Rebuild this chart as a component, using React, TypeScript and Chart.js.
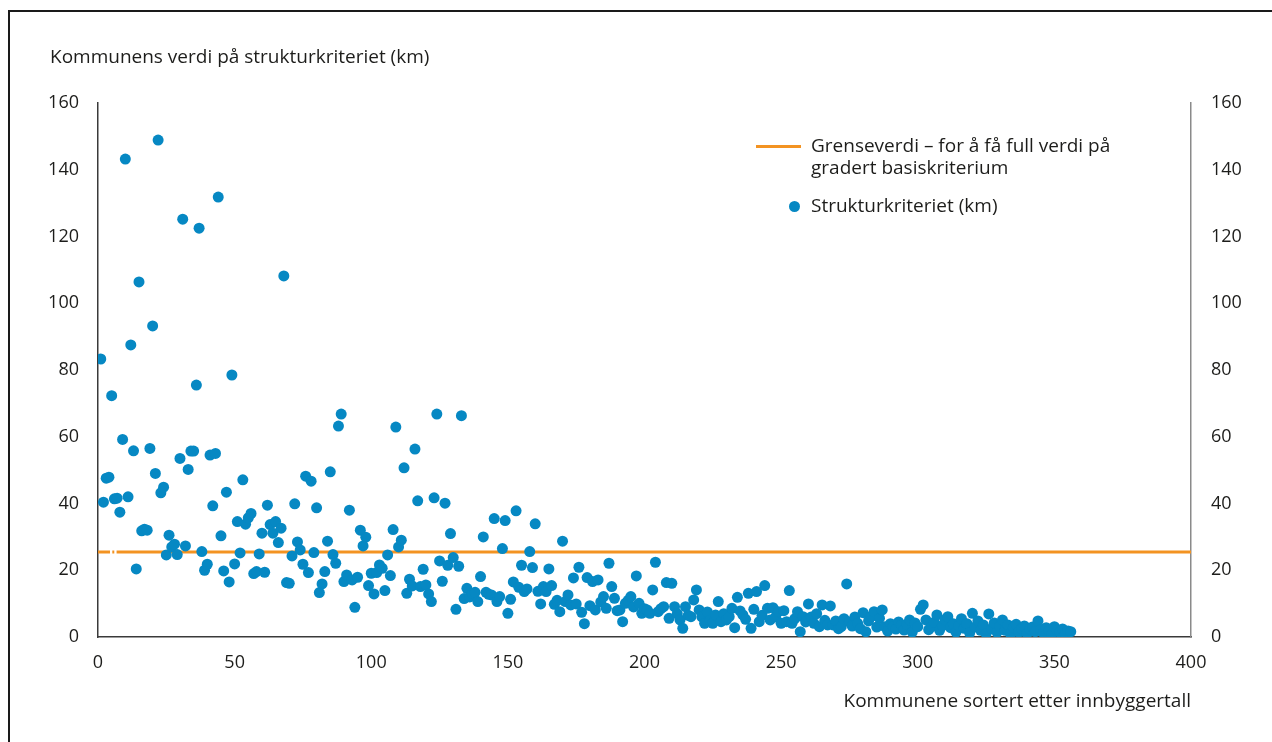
import { useEffect, useRef } from "react";
import { Chart, registerables } from "chart.js";

Chart.register(...registerables);

// Strukturkriteriet (km) per kommune, sortert etter innbyggertall (rang 1..356)
const strukturKm: number[] = [
  83.3, 40.4, 47.6, 47.9, 72.3, 41.4, 41.6, 37.4, 59.2, 143.2,
  42.0, 87.5, 55.8, 20.4, 106.4, 31.8, 32.3, 32.0, 56.5, 93.2,
  49.0, 148.9, 43.2, 44.9, 24.6, 30.5, 27.0, 27.8, 24.7, 53.5,
  125.2, 27.3, 50.2, 55.7, 55.7, 75.5, 122.5, 25.6, 20.0, 21.8,
  54.5, 39.3, 55.0, 131.8, 30.3, 19.8, 43.4, 16.5, 78.5, 21.9,
  34.6, 25.2, 47.1, 33.8, 35.7, 37.0, 19.0, 19.6, 24.9, 31.1,
  19.4, 39.5, 33.7, 31.1, 34.6, 28.3, 32.6, 108.2, 16.3, 16.1,
  24.3, 39.9, 28.5, 26.1, 21.8, 48.2, 19.3, 46.7, 25.3, 38.7,
  13.3, 15.9, 19.6, 28.7, 49.5, 24.7, 22.1, 63.2, 66.8, 16.6,
  18.6, 38.0, 17.1, 8.9, 17.9, 32.0, 27.3, 29.9, 15.4, 19.1,
  12.9, 19.3, 21.6, 20.6, 13.9, 24.6, 18.4, 32.2, 62.9, 27.0,
  29.0, 50.7, 13.1, 17.3, 15.3, 56.3, 40.8, 15.1, 20.3, 15.6,
  12.9, 10.6, 41.7, 66.8, 22.8, 16.7, 40.1, 21.5, 31.0, 23.8,
  8.3, 21.2, 66.3, 11.5, 14.6, 12.0, 13.0, 13.4, 10.6, 18.1,
  30.0, 13.4, 12.8, 12.6, 35.5, 10.6, 12.1, 26.5, 34.9, 7.1,
  11.3, 16.5, 37.8, 14.9, 21.5, 13.6, 14.4, 25.6, 20.8, 33.9,
  13.7, 9.9, 15.1, 13.6, 20.4, 15.4, 9.8, 11.0, 7.6, 28.7,
  10.6, 12.6, 9.6, 17.7, 9.9, 20.9, 7.4, 4.0, 17.8, 9.4,
  16.6, 8.1, 17.1, 10.5, 12.1, 8.6, 22.1, 15.1, 11.6, 7.9,
  8.1, 4.6, 10.1, 11.0, 12.1, 9.0, 18.3, 10.1, 7.1, 8.5,
  8.1, 7.1, 14.1, 22.4, 7.6, 8.5, 9.1, 16.3, 5.6, 16.1,
  9.1, 7.0, 5.1, 2.6, 9.1, 6.5, 6.1, 11.1, 14.1, 8.1,
  6.0, 4.1, 7.5, 5.0, 4.1, 6.6, 10.6, 4.6, 7.0, 5.1,
  6.1, 8.6, 2.8, 11.9, 7.8, 6.6, 5.3, 13.1, 2.6, 8.3,
  13.6, 4.6, 6.5, 15.4, 8.6, 5.1, 8.8, 6.0, 7.6, 4.1,
  7.9, 4.6, 13.9, 4.1, 5.5, 7.6, 1.6, 6.1, 4.5, 9.9,
  6.0, 4.1, 7.0, 3.1, 9.6, 5.0, 3.6, 9.3, 3.6, 4.8,
  2.5, 3.1, 5.5, 15.9, 4.5, 3.3, 6.0, 4.1, 2.5, 7.3,
  1.6, 4.8, 6.2, 7.6, 3.0, 5.6, 8.1, 3.1, 1.8, 4.0,
  3.1, 2.4, 4.5, 3.6, 2.1, 3.8, 5.1, 1.5, 4.2, 3.1,
  8.3, 9.6, 5.1, 2.2, 3.1, 4.4, 6.6, 2.0, 3.5, 5.2,
  6.1, 2.8, 4.0, 1.5, 3.4, 5.5, 2.6, 4.0, 1.2, 7.1,
  3.0, 4.8, 2.0, 3.6, 1.0, 6.9, 2.5, 4.2, 1.4, 3.2,
  5.1, 2.0, 3.6, 0.9, 2.8, 3.8, 1.5, 2.6, 3.3, 1.0,
  2.4, 3.0, 1.6, 4.8, 2.2, 1.2, 2.8, 1.8, 0.8, 3.1,
  2.0, 1.4, 2.4, 1.0, 1.8, 1.6,
];

// Kommunenes rang etter innbyggertall
const rang: number[] = strukturKm.map((_, i) => i + 1);

// Grenseverdi for full verdi på gradert basiskriterium (km)
const grenseverdi = 25.5;
// The threshold line starts dashed and becomes solid from the second point onward
const grenseX: number[] = [0, 6.8, 400];

const xTicks: number[] = [0, 50, 100, 150, 200, 250, 300, 350, 400];
const yTicks: number[] = [0, 20, 40, 60, 80, 100, 120, 140, 160];

const yTitle = "Kommunens verdi på strukturkriteriet (km)";
const xTitle = "Kommunene sortert etter innbyggertall";
const legendLine = ["Grenseverdi – for å få full verdi på", "gradert basiskriterium"];
const legendDots = "Strukturkriteriet (km)";

const BLUE = "#0688c3";
const ORANGE = "#f39322";
const TEXT = "#1d1d1b";
const AXIS = "#3a3a3a";
const FONT = '"Open Sans", "Noto Sans", sans-serif';
const FS_TEXT = 19;
const FS_TICK = 18;

const overlay = {
  id: "overlay",
  afterDraw(chart: any) {
    const { ctx } = chart;
    ctx.save();
    ctx.font = `${FS_TEXT}px ${FONT}`;
    ctx.fillStyle = TEXT;
    ctx.textAlign = "left";
    ctx.textBaseline = "middle";
    ctx.fillText(yTitle, 50, 58);

    // legend
    ctx.strokeStyle = ORANGE;
    ctx.lineWidth = 3;
    ctx.beginPath();
    ctx.moveTo(756, 146.5);
    ctx.lineTo(801, 146.5);
    ctx.stroke();
    ctx.fillText(legendLine[0], 811, 146.5);
    ctx.fillText(legendLine[1], 811, 169);

    ctx.fillStyle = BLUE;
    ctx.beginPath();
    ctx.arc(794.5, 206.5, 5.5, 0, Math.PI * 2);
    ctx.fill();
    ctx.fillStyle = TEXT;
    ctx.fillText(legendDots, 811, 206.5);
    ctx.restore();
  },
};

export default function App() {
  const ref = useRef<HTMLCanvasElement | null>(null);

  useEffect(() => {
    if (!ref.current) return;
    const tickFont = { family: FONT, size: FS_TICK };
    const titleFont = { family: FONT, size: FS_TEXT };
    const chart = new Chart(ref.current, {
      data: {
        datasets: [
          {
            type: "scatter",
            label: legendDots,
            data: rang.map((r, i) => ({ x: r, y: strukturKm[i] })),
            backgroundColor: BLUE,
            borderWidth: 0,
            pointRadius: 5.5,
            pointHoverRadius: 5.5,
          },
          {
            type: "line",
            label: legendLine.join(" "),
            data: grenseX.map((x) => ({ x, y: grenseverdi })),
            borderColor: ORANGE,
            borderWidth: 3,
            pointRadius: 0,
            borderCapStyle: "butt",
            segment: {
              borderDash: (c: any) => (c.p0DataIndex === 0 ? [12, 2.3, 2, 2.5] : undefined),
            },
          },
        ],
      },
      options: {
        responsive: false,
        animation: false,
        devicePixelRatio: 1,
        layout: { padding: { top: 103, left: 0, right: 0, bottom: 0 } },
        plugins: {
          legend: { display: false },
          tooltip: { enabled: false },
          title: { display: false },
        },
        scales: {
          x: {
            type: "linear",
            min: 0,
            max: 400,
            afterBuildTicks: (s: any) => {
              s.ticks = xTicks.map((v) => ({ value: v }));
            },
            afterFit: (s: any) => {
              s.height = 105;
            },
            grid: { display: false },
            border: { display: true, color: AXIS, width: 1.5 },
            ticks: { font: tickFont, color: TEXT, padding: 7, maxRotation: 0 },
            title: {
              display: true,
              text: xTitle,
              align: "end",
              color: TEXT,
              font: titleFont,
              padding: { top: 0, bottom: 29 },
            },
          },
          y: {
            type: "linear",
            position: "left",
            min: 0,
            max: 160,
            afterBuildTicks: (s: any) => {
              s.ticks = yTicks.map((v) => ({ value: v }));
            },
            afterFit: (s: any) => {
              s.width = 98;
            },
            grid: { display: false },
            border: { display: true, color: AXIS, width: 1.5 },
            ticks: { font: tickFont, color: TEXT, padding: 11 },
          },
          y2: {
            type: "linear",
            position: "right",
            min: 0,
            max: 160,
            afterBuildTicks: (s: any) => {
              s.ticks = yTicks.map((v) => ({ value: v }));
            },
            afterFit: (s: any) => {
              s.width = 81;
            },
            grid: { display: false },
            border: { display: true, color: "#8a8a8a", width: 1.5 },
            ticks: { font: tickFont, color: TEXT, padding: 12 },
          },
        },
      },
      plugins: [overlay],
    } as any);
    return () => chart.destroy();
  }, []);

  return (
    <>
      <div
        style={{
          position: "fixed",
          left: 8,
          top: 10,
          width: 1400,
          height: 900,
          border: "2px solid #1a1a1a",
          boxSizing: "border-box",
        }}
      />
      <canvas
        ref={ref}
        width={1272}
        height={742}
        style={{ position: "fixed", left: 0, top: 0, width: 1272, height: 742 }}
      />
    </>
  );
}
